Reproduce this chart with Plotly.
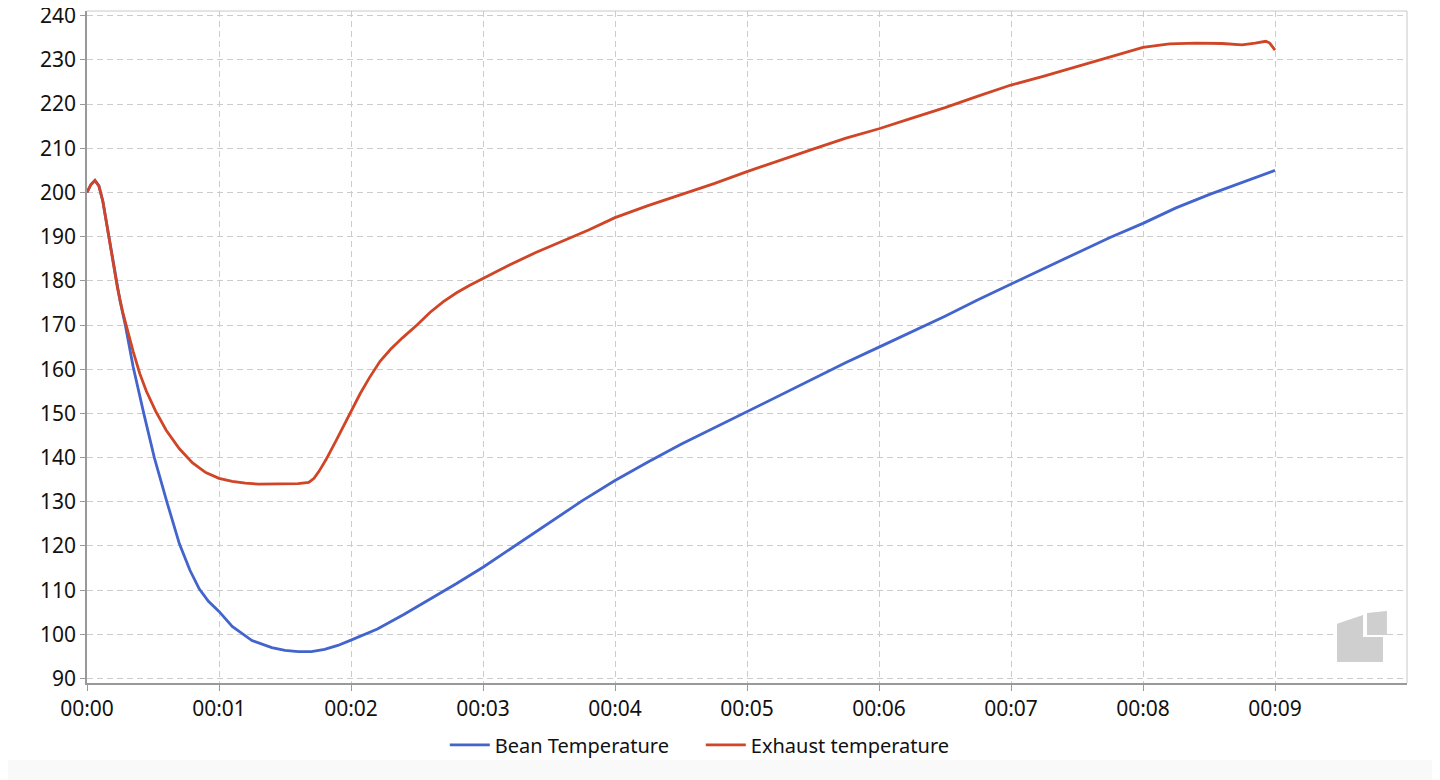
import plotly.graph_objects as go

# ---- data (time in minutes, temperature) ----
bean_time = [0.00, 0.03, 0.06, 0.09, 0.12, 0.16, 0.20, 0.25, 0.29, 0.35, 0.43,
             0.51, 0.61, 0.70, 0.78, 0.85, 0.92, 1.00, 1.10, 1.25, 1.40, 1.50, 1.60,
             1.70, 1.80, 1.90, 2.00, 2.20, 2.40, 2.60, 2.80, 3.00, 3.25, 3.50, 3.75,
             4.00, 4.25, 4.50, 4.75, 5.00, 5.25, 5.50, 5.75, 6.00, 6.25, 6.50, 6.75,
             7.00, 7.25, 7.50, 7.75, 8.00, 8.25, 8.50, 8.75, 9.00]
bean_temp = [200.0, 201.8, 202.7, 201.5, 198.0, 191.0, 183.5, 175.5, 170.0, 160.5, 150.0,
             140.0, 129.5, 120.5, 114.5, 110.3, 107.5, 105.2, 101.8, 98.6, 97.0, 96.4, 96.1,
             96.1, 96.6, 97.5, 98.7, 101.2, 104.5, 108.0, 111.5, 115.2, 120.2, 125.3, 130.2,
             134.8, 139.0, 143.0, 146.7, 150.3, 154.0, 157.7, 161.5, 165.0, 168.5, 172.0, 175.7,
             179.3, 182.8, 186.3, 189.8, 193.0, 196.5, 199.5, 202.3, 205.0]

exhaust_time = [0.00, 0.03, 0.06, 0.09, 0.12, 0.16, 0.19, 0.23, 0.27, 0.30, 0.35, 0.40,
                0.45, 0.52, 0.60, 0.70, 0.80, 0.90, 1.00, 1.10, 1.20, 1.30, 1.45, 1.60,
                1.68, 1.72, 1.76, 1.81, 1.89, 1.95, 2.00, 2.07, 2.14, 2.22, 2.30, 2.39,
                2.50, 2.60, 2.70, 2.80, 2.90, 3.00, 3.20, 3.40, 3.60, 3.80, 4.00, 4.25,
                4.50, 4.75, 5.00, 5.25, 5.50, 5.75, 6.00, 6.25, 6.50, 6.75, 7.00, 7.25,
                7.50, 7.75, 8.00, 8.20, 8.40, 8.60, 8.75, 8.85, 8.93, 8.96, 9.00]
exhaust_temp = [200.0, 201.8, 202.7, 201.5, 198.0, 191.0, 185.0, 178.5, 173.0, 169.5, 164.0, 159.0,
                155.0, 150.5, 146.2, 142.0, 138.8, 136.6, 135.3, 134.6, 134.2, 134.0, 134.0, 134.1,
                134.4, 135.3, 137.0, 139.5, 144.0, 147.5, 150.6, 154.5, 158.1, 161.8, 164.5, 167.1,
                170.0, 172.9, 175.3, 177.3, 179.0, 180.5, 183.6, 186.4, 188.9, 191.5, 194.3, 197.0,
                199.5, 202.0, 204.7, 207.3, 209.8, 212.3, 214.4, 216.8, 219.2, 221.8, 224.3, 226.3,
                228.5, 230.6, 232.8, 233.6, 233.8, 233.7, 233.4, 233.8, 234.2, 233.8, 232.2]

x_tick_vals = [0, 1, 2, 3, 4, 5, 6, 7, 8, 9]
x_tick_text = ["00:00", "00:01", "00:02", "00:03", "00:04", "00:05", "00:06", "00:07", "00:08", "00:09"]
y_tick_vals = [90, 100, 110, 120, 130, 140, 150, 160, 170, 180, 190, 200, 210, 220, 230, 240]

BLUE = "#4264cc"
RED = "#cf4526"

fig = go.Figure()
fig.add_trace(go.Scatter(x=bean_time, y=bean_temp, mode="lines", name="Bean Temperature",
                         line=dict(color=BLUE, width=2.8)))
fig.add_trace(go.Scatter(x=exhaust_time, y=exhaust_temp, mode="lines", name="Exhaust temperature",
                         line=dict(color=RED, width=2.8)))

axis_font = dict(family="Noto Sans", size=21, color="#111111")

# page body has an 8px margin; figure sized to fill the remaining window
fig.update_layout(
    width=1432, height=772,
    margin=dict(l=79, r=33, t=3, b=97),
    paper_bgcolor="white", plot_bgcolor="white",
    showlegend=True,
    legend=dict(orientation="h", x=0.465, xanchor="center", y=-0.063, yanchor="top",
                font=dict(family="Noto Sans", size=20, color="#111111"),
                itemwidth=40, entrywidth=201, bgcolor="rgba(0,0,0,0)"),
    xaxis=dict(range=[0, 10], tickvals=x_tick_vals, ticktext=x_tick_text,
               showgrid=True, gridcolor="#cccccc", griddash="6px,4px", gridwidth=1,
               showline=True, linecolor="#999999", linewidth=1.5, mirror=False,
               ticks="outside", ticklen=6, tickcolor="#999999",
               tickfont=axis_font, zeroline=False, fixedrange=True, automargin=False,
               ticklabeloverflow="allow"),
    yaxis=dict(range=[89.0, 241.05], tickvals=y_tick_vals,
               showgrid=True, gridcolor="#cccccc", griddash="6px,4px", gridwidth=1,
               showline=True, linecolor="#999999", linewidth=1.5,
               ticks="outside", ticklen=5, tickcolor="#999999",
               tickfont=axis_font, zeroline=False, fixedrange=True, automargin=False,
               ticklabeloverflow="allow"),
    shapes=[
        # top & right border of plot area
        dict(type="line", xref="paper", yref="paper", x0=0, x1=1, y0=1, y1=1,
             line=dict(color="#c8c8c8", width=1)),
        dict(type="line", xref="paper", yref="paper", x0=1, x1=1, y0=0, y1=1,
             line=dict(color="#c8c8c8", width=1)),
        # light strip at bottom of page
        dict(type="rect", xref="paper", yref="paper", x0=-0.07, x1=1.03, y0=-0.115, y1=-0.16,
             fillcolor="#f9f9f9", line=dict(width=0), layer="below"),
        # watermark logo
        dict(type="path", xref="paper", yref="paper",
             path="M 0.947,0.088 L 0.9667,0.1013 L 0.9667,0.0686 L 0.9818,0.0686 "
                  "L 0.9818,0.0313 L 0.947,0.0313 Z",
             fillcolor="#cfcfcf", line=dict(width=0)),
        dict(type="path", xref="paper", yref="paper",
             path="M 0.9697,0.1043 L 0.9848,0.1073 L 0.9848,0.0715 L 0.9697,0.0715 Z",
             fillcolor="#cfcfcf", line=dict(width=0)),
    ],
)

fig.write_html("out.html")
